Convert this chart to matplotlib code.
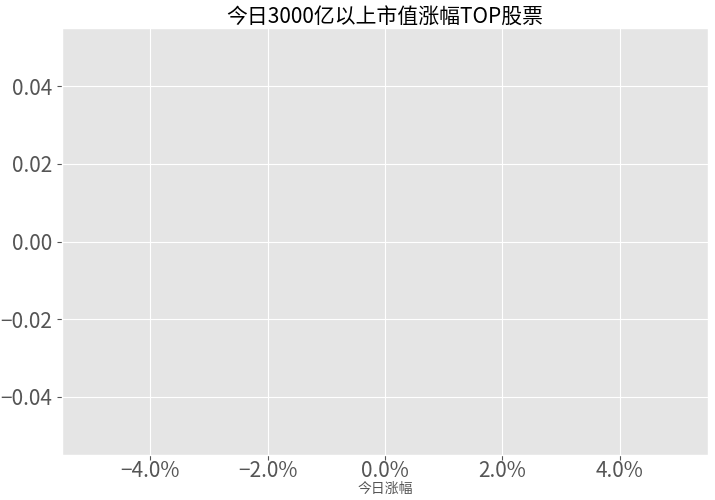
import matplotlib
matplotlib.use("Agg")
import matplotlib.pyplot as plt
from matplotlib.ticker import PercentFormatter

plt.style.use("ggplot")
plt.rcParams['font.family'] = ['Noto Sans CJK SC', 'DejaVu Sans']
plt.rcParams['axes.unicode_minus'] = True

# Data (the reference shows no stocks for today)
stocks = []
changes = []

title = "今日3000亿以上市值涨幅TOP股票"
xlabel = "今日涨幅"

fig = plt.figure(figsize=(7.15, 5.0), dpi=100)
ax = fig.add_axes([62/715, 45/500, (708-62)/715, (472-45)/500])
ax.barh(stocks, changes)
ax.set_xlim(-0.055, 0.055)
ax.set_ylim(-0.055, 0.055)
ax.set_xticks([-0.04, -0.02, 0.0, 0.02, 0.04])
ax.set_yticks([-0.04, -0.02, 0.0, 0.02, 0.04])
ax.xaxis.set_major_formatter(PercentFormatter(xmax=1, decimals=1))
ax.tick_params(axis='both', labelsize=15)
ax.tick_params(axis='x', pad=0)
ax.set_xlabel(xlabel, fontsize=10, labelpad=0)
ax.set_title(title, fontsize=15, color='black', pad=3)
fig.savefig("out.png", dpi=100)
